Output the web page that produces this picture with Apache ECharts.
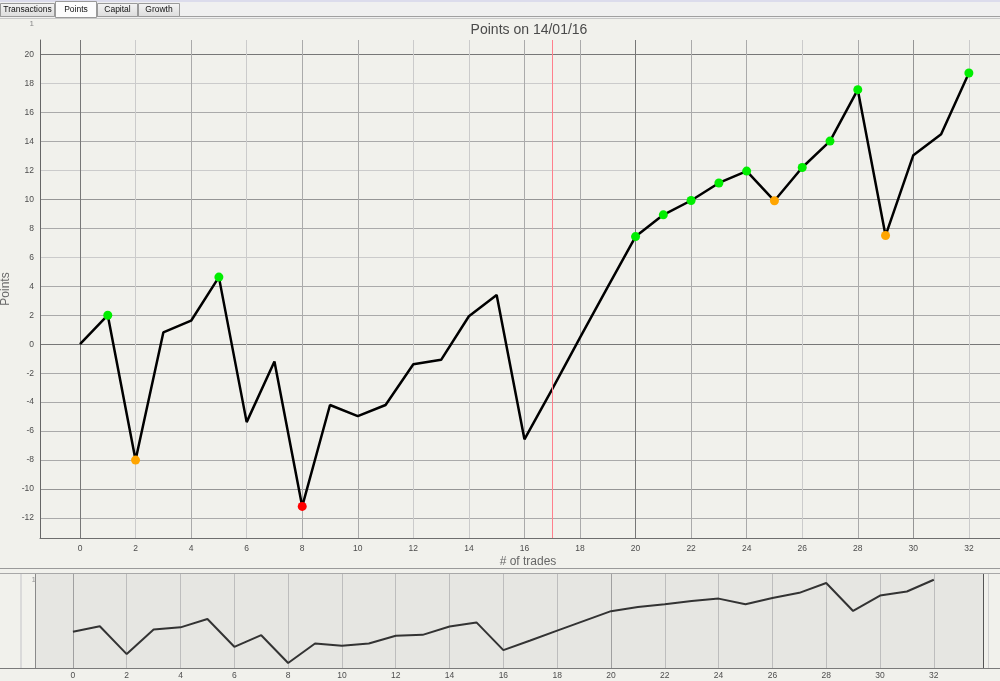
<!DOCTYPE html>
<html>
<head>
<meta charset="utf-8">
<script src="https://cdn.jsdelivr.net/npm/echarts@6/dist/echarts.min.js"></script>
<style>
html,body{margin:0;padding:0;background:#f1f1ec;}
#chart{width:1000px;height:681px;}
</style>
</head>
<body>
<div id="chart"></div>
<script>
// ---- data ----
const trades = [0,1,2,3,4,5,6,7,8,9,10,11,12,13,14,15,16,17,18,19,20,21,22,23,24,25,26,27,28,29,30,31,32];
const points = [0,2.0,-8.0,0.81,1.62,4.63,-5.38,-1.2,-11.2,-4.2,-4.97,-4.2,-1.38,-1.08,1.93,3.4,-6.57,-3.1,0.45,3.95,7.43,8.93,9.92,11.13,11.95,9.9,12.2,14.02,17.57,7.5,13.05,14.5,18.72];
const markerKind = ['', 'high','dip','','', 'high','','', 'low','','','','','','','','','','','', 'high','high','high','high','high','dip','high','high','high','dip','','', 'high'];
const selectedTrade = 17;
const xTicks = [0,2,4,6,8,10,12,14,16,18,20,22,24,26,28,30,32];
const yTicks = [-12,-10,-8,-6,-4,-2,0,2,4,6,8,10,12,14,16,18,20];
const tabs = ['Transactions','Points','Capital','Growth'];
const titleText = 'Points on 14/01/16';
const xName = '# of trades';
const yName = 'Points';

// ---- styles ----
const markerColors = {high:'#00ee00', dip:'#ffa500', low:'#ff0000'};
const D = '#777777', M = '#959595', G = '#aaaaaa', L = '#cbcbcb';
const xLineColors = [D,L,G,L,G,G,L,L,G,G,D,G,G,L,G,M,L];
const yLineColors = [G,M,G,G,G,G,D,G,G,L,G,M,L,G,G,L,D];
const bottomLineColors = ['#a0a0a0','#bdbdbd','#bdbdbd','#bdbdbd','#bdbdbd','#bdbdbd','#bdbdbd','#bdbdbd','#bdbdbd','#bdbdbd','#a0a0a0','#bdbdbd','#bdbdbd','#bdbdbd','#bdbdbd','#bdbdbd','#bdbdbd'];
const FONT = 'Liberation Sans';

const mainData = trades.map((t,i)=>{
  const k = markerKind[i];
  return k ? {value:[t, points[i]], symbol:'circle', itemStyle:{color:markerColors[k]}}
           : {value:[t, points[i]], symbol:'none'};
});
const navData = trades.map((t,i)=>[t, points[i]]);

// tab graphics
const tabX = [0,55,97,138];
const tabW = [54,41,40,41];
const graphics = [
  {type:'rect', shape:{x:0,y:0,width:1000,height:18}, style:{fill:'#f0f0f0'}, z:-20},
  {type:'rect', shape:{x:0,y:0,width:1000,height:2}, style:{fill:'#dcdcec'}, z:-19},
  {type:'line', shape:{x1:0,y1:16.5,x2:1000,y2:16.5}, style:{stroke:'#a0a0a0',lineWidth:1}, z:-18},
  {type:'line', shape:{x1:0,y1:18.5,x2:1000,y2:18.5}, style:{stroke:'#c8c8c8',lineWidth:1}, z:-18}
];
tabs.forEach((t,i)=>{
  const sel = i===1;
  graphics.push({type:'rect', shape:{x:tabX[i]+0.5,y:sel?1.5:3.5,width:tabW[i],height:sel?16:13},
    style:{fill: sel?'#fcfcfc':{type:'linear',x:0,y:0,x2:0,y2:1,colorStops:[{offset:0,color:'#f4f4f4'},{offset:1,color:'#dcdcdc'}]}, stroke:'#9a9a9a', lineWidth:1}, z:-17});
  graphics.push({type:'text', x:tabX[i]+tabW[i]/2+0.5, y:10, style:{text:t, font:'8.5px "'+FONT+'"', fill:'#111', align:'center', verticalAlign:'middle'}, z:-16});
});
// title and axis names
graphics.push({type:'text', x:529, y:30, style:{text:titleText, font:'14px "'+FONT+'"', fill:'#4a4a4a', align:'center', verticalAlign:'middle'}});
graphics.push({type:'text', x:528, y:562, style:{text:xName, font:'12px "'+FONT+'"', fill:'#666', align:'center', verticalAlign:'middle'}});
graphics.push({type:'text', x:6, y:289, rotation:Math.PI/2, style:{text:yName, font:'12px "'+FONT+'"', fill:'#6a6a6a', align:'center', verticalAlign:'middle'}});
graphics.push({type:'text', x:34, y:24, style:{text:'1', font:'8px "'+FONT+'"', fill:'#888', align:'right', verticalAlign:'middle'}});
// navigator panel
graphics.push({type:'line', shape:{x1:0,y1:568.5,x2:1000,y2:568.5}, style:{stroke:'#9a9a9a',lineWidth:1}, z:-15});
graphics.push({type:'line', shape:{x1:0,y1:573.5,x2:1000,y2:573.5}, style:{stroke:'#a8a8a8',lineWidth:1}, z:-15});
graphics.push({type:'rect', shape:{x:35,y:574,width:948,height:94}, style:{fill:'#e6e6e2'}, z:-14});
graphics.push({type:'line', shape:{x1:21,y1:574,x2:21,y2:668}, style:{stroke:'#dadada',lineWidth:2}, z:-13});
graphics.push({type:'line', shape:{x1:35.5,y1:574,x2:35.5,y2:668}, style:{stroke:'#8a8a8a',lineWidth:1}, z:-13});
graphics.push({type:'line', shape:{x1:983.5,y1:574,x2:983.5,y2:668}, style:{stroke:'#555',lineWidth:1}, z:5});
graphics.push({type:'line', shape:{x1:988.5,y1:574,x2:988.5,y2:668}, style:{stroke:'#cfcfcf',lineWidth:1}, z:5});
graphics.push({type:'text', x:36, y:580, style:{text:'1', font:'8px "'+FONT+'"', fill:'#999', align:'right', verticalAlign:'middle'}});

const chart = echarts.init(document.getElementById('chart'), null, {renderer:'canvas'});
chart.setOption({
  animation:false,
  backgroundColor:'#f1f1ec',
  graphic: graphics,
  grid:[
    {left:40, top:40, right:0, bottom:143, containLabel:false},
    {left:0, top:574, right:0, bottom:13, containLabel:false}
  ],
  xAxis:[
    {type:'value', gridIndex:0, min:-1.44, max:33.12,
     axisLine:{show:true, onZero:false, lineStyle:{color:'#6e6e6e', width:1}},
     axisTick:{show:false, customValues:xTicks},
     axisLabel:{customValues:xTicks, color:'#4d4d4d', fontSize:8.5, fontFamily:FONT, margin:6},
     splitLine:{show:true, lineStyle:{color:xLineColors, width:1}}},
    {type:'value', gridIndex:1, min:-2.71, max:34.46,
     axisLine:{show:true, onZero:false, lineStyle:{color:'#7a7a7a', width:1}},
     axisTick:{show:false, customValues:xTicks},
     axisLabel:{customValues:xTicks, color:'#4d4d4d', fontSize:8.5, fontFamily:FONT, margin:3},
     splitLine:{show:true, lineStyle:{color:bottomLineColors, width:1}}}
  ],
  yAxis:[
    {type:'value', gridIndex:0, min:-13.38, max:21,
     axisLine:{show:true, onZero:false, lineStyle:{color:'#666', width:1}},
     axisTick:{show:false, customValues:yTicks},
     axisLabel:{customValues:yTicks, color:'#4d4d4d', fontSize:8.5, fontFamily:FONT, margin:6},
     splitLine:{show:true, lineStyle:{color:yLineColors, width:1}}},
    {type:'value', gridIndex:1, min:-13, max:20.8, show:false, splitLine:{show:false}}
  ],
  series:[
    {type:'line', xAxisIndex:0, yAxisIndex:0, data:mainData, symbolSize:9,
     lineStyle:{color:'#000', width:2.5}, itemStyle:{borderWidth:0}, z:3,
     markLine:{silent:true, symbol:['none','none'], label:{show:false},
       lineStyle:{color:'#ff7f8c', width:1, type:'solid'}, data:[{xAxis:selectedTrade}]}},
    {type:'line', xAxisIndex:1, yAxisIndex:1, data:navData, symbol:'none',
     lineStyle:{color:'#333', width:2}, z:3}
  ]
});
</script>
</body>
</html>
